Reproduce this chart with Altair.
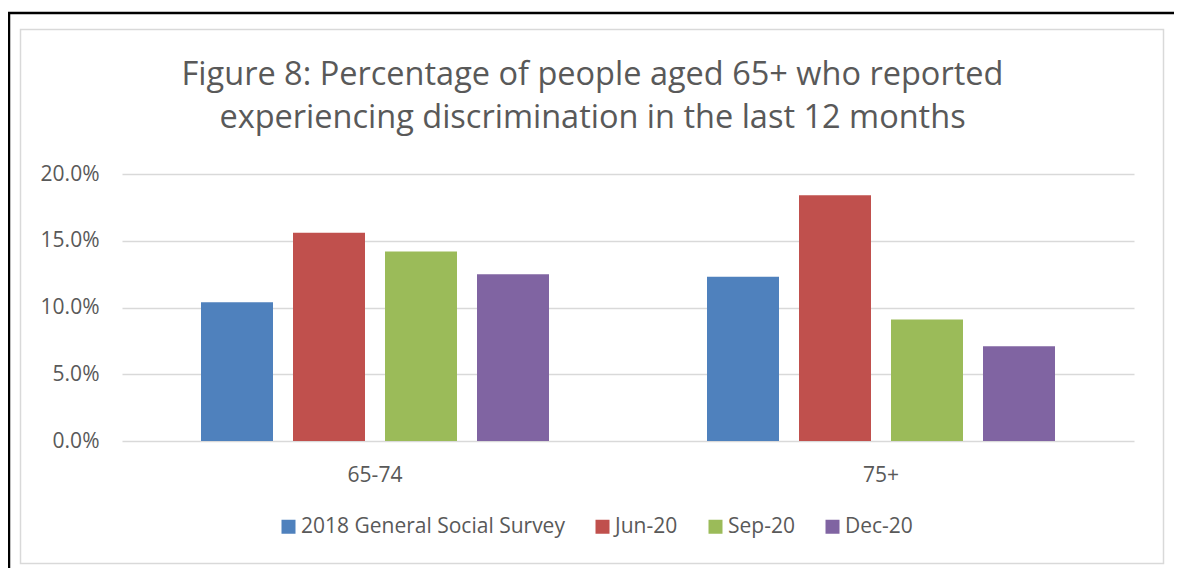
import altair as alt
import pandas as pd

# ---- data ----
groups = ["65-74", "75+"]
series = ["2018 General Social Survey", "Jun-20", "Sep-20", "Dec-20"]
values_65_74 = [0.104, 0.156, 0.142, 0.125]
values_75_plus = [0.123, 0.184, 0.091, 0.071]
series_colors = ["#4F81BD", "#C0504D", "#9BBB59", "#8064A2"]
y_ticks = [0.0, 0.05, 0.10, 0.15, 0.20]
title_lines = [
    "Figure 8: Percentage of people aged 65+ who reported",
    "experiencing discrimination in the last 12 months",
]

rows = []
for g, vals in zip(groups, [values_65_74, values_75_plus]):
    for s, v in zip(series, vals):
        rows.append({"group": g, "series": s, "value": v})
df = pd.DataFrame(rows)
one = pd.DataFrame({"k": [1]})

FONT = "Open Sans"
TXT = "#595959"
GRID = "#D9D9D9"

W, H = 1012, 267

bars = alt.Chart(df).mark_bar().encode(
    x=alt.X("group:N", sort=groups, title=None,
            scale=alt.Scale(paddingInner=0, paddingOuter=0),
            axis=alt.Axis(labelAngle=0, tickSize=0, domain=False, grid=False,
                          labelPadding=23, labelFontSize=21, labelFont=FONT,
                          labelColor=TXT)),
    xOffset=alt.XOffset("series:N", sort=series,
                        scale=alt.Scale(paddingInner=0.2174, paddingOuter=0.8587)),
    y=alt.Y("value:Q", title=None,
            scale=alt.Scale(domain=[0, 0.2], nice=False),
            axis=alt.Axis(values=y_ticks, format=".1%", tickSize=0, domain=False,
                          grid=True, gridColor=GRID, gridWidth=1.5,
                          labelPadding=23, labelFontSize=21, labelFont=FONT,
                          labelColor=TXT)),
    color=alt.Color("series:N", sort=series,
                    scale=alt.Scale(domain=series, range=series_colors),
                    legend=alt.Legend(title=None, orient="none", direction="horizontal",
                                      legendX=156, legendY=342,
                                      symbolType="square", symbolSize=196,
                                      symbolStrokeWidth=0, labelFontSize=21,
                                      labelFont=FONT, labelColor=TXT,
                                      labelLimit=500, labelOffset=2,
                                      columnPadding=27, padding=0)),
)

frame = alt.Chart(one).mark_rect(fillOpacity=0, stroke=GRID, strokeWidth=1.5).encode(
    x=alt.value(-101.5), x2=alt.value(1041.5),
    y=alt.value(-144.5), y2=alt.value(389.5),
)
black_top = alt.Chart(one).mark_rule(color="black", strokeWidth=2.5).encode(
    x=alt.value(-114), x2=alt.value(1060), y=alt.value(-161),
)
black_left = alt.Chart(one).mark_rule(color="black", strokeWidth=2.5).encode(
    x=alt.value(-113), y=alt.value(-162), y2=alt.value(400),
)
title = alt.Chart(one).mark_text(
    font=FONT, fontSize=32.5, color=TXT, align="center",
    baseline="alphabetic", lineHeight=43,
).encode(
    x=alt.value(470.5), y=alt.value(-89), text=alt.value(title_lines),
)

chart = alt.layer(frame, black_top, black_left, bars, title).properties(
    width=W, height=H,
    autosize=alt.AutoSizeParams(type="none"),
    padding={"left": 114, "top": 166, "right": 40, "bottom": 127},
    background="white",
).configure_view(stroke=None)

chart.save("out.html", embed_options={"renderer": "svg", "actions": False})
